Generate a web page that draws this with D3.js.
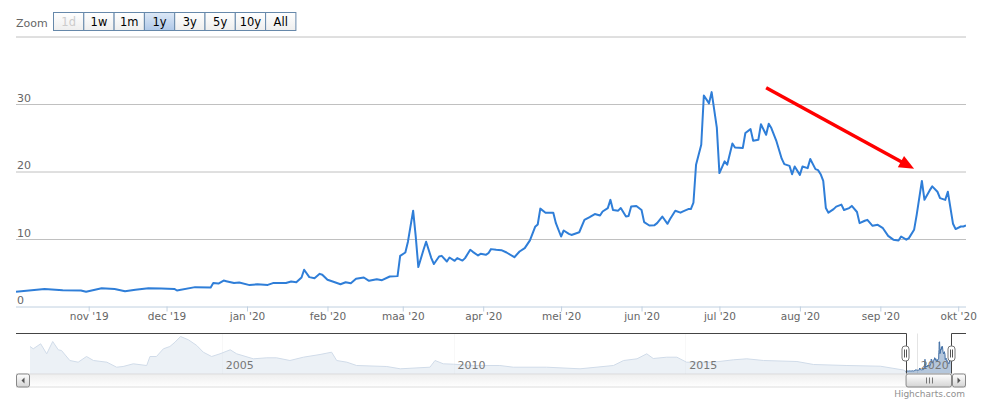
<!DOCTYPE html>
<html><head><meta charset="utf-8">
<script src="https://cdn.jsdelivr.net/npm/d3@7"></script>
<style>
body{margin:0;background:#fff;}
svg{display:block;font-family:"DejaVu Sans",Verdana,sans-serif;}
</style>
</head><body>
<svg id="c" width="987" height="404"></svg>
<script>
// ---------- data ----------
const dates = ["2019-10-04","2019-10-15","2019-10-22","2019-10-29","2019-10-31",
"2019-11-06","2019-11-11","2019-11-15","2019-11-19","2019-11-24","2019-11-29",
"2019-12-04","2019-12-05","2019-12-12","2019-12-18","2019-12-19","2019-12-21","2019-12-23","2019-12-24","2019-12-27","2019-12-29",
"2020-01-02","2020-01-05","2020-01-09","2020-01-11","2020-01-16","2020-01-18","2020-01-20","2020-01-22","2020-01-23","2020-01-25","2020-01-27","2020-01-29","2020-01-30",
"2020-02-01","2020-02-03","2020-02-06","2020-02-08","2020-02-10","2020-02-12","2020-02-15","2020-02-17","2020-02-20","2020-02-22","2020-02-25","2020-02-28","2020-02-29",
"2020-03-02","2020-03-03","2020-03-05","2020-03-06","2020-03-07","2020-03-09","2020-03-10","2020-03-12","2020-03-13","2020-03-15","2020-03-16","2020-03-18","2020-03-19","2020-03-21","2020-03-22","2020-03-24","2020-03-25","2020-03-27","2020-03-28","2020-03-30","2020-03-31",
"2020-04-02","2020-04-03","2020-04-04","2020-04-06","2020-04-08","2020-04-10","2020-04-13","2020-04-15","2020-04-17","2020-04-19","2020-04-21","2020-04-22","2020-04-23","2020-04-25","2020-04-28","2020-04-29",
"2020-05-01","2020-05-02","2020-05-04","2020-05-05","2020-05-08","2020-05-10","2020-05-12","2020-05-14","2020-05-16","2020-05-17","2020-05-19","2020-05-20","2020-05-21","2020-05-23","2020-05-24","2020-05-26","2020-05-27","2020-05-28","2020-05-30",
"2020-06-01","2020-06-02","2020-06-04","2020-06-06","2020-06-07","2020-06-09","2020-06-11","2020-06-12","2020-06-14","2020-06-16","2020-06-17","2020-06-19","2020-06-20","2020-06-21","2020-06-22","2020-06-24","2020-06-25","2020-06-27","2020-06-28","2020-06-30",
"2020-07-01","2020-07-03","2020-07-04","2020-07-06","2020-07-07","2020-07-10","2020-07-11","2020-07-13","2020-07-14","2020-07-16","2020-07-17","2020-07-19","2020-07-20","2020-07-21","2020-07-23","2020-07-25","2020-07-26","2020-07-28","2020-07-29","2020-07-30",
"2020-08-01","2020-08-02","2020-08-04","2020-08-05","2020-08-07","2020-08-08","2020-08-09","2020-08-10","2020-08-11","2020-08-12","2020-08-14","2020-08-15","2020-08-17","2020-08-18","2020-08-20","2020-08-21","2020-08-23","2020-08-24","2020-08-26","2020-08-27","2020-08-29","2020-08-31",
"2020-09-02","2020-09-04","2020-09-06","2020-09-08","2020-09-09","2020-09-11","2020-09-12","2020-09-14","2020-09-15","2020-09-17","2020-09-18","2020-09-20","2020-09-21","2020-09-23","2020-09-24","2020-09-26","2020-09-27","2020-09-29","2020-09-30",
"2020-10-02","2020-10-03","2020-10-04"];

const values = [2.2,2.6,2.4,2.37,2.2,
2.7,2.58,2.25,2.47,2.7,2.65,
2.6,2.37,2.87,2.8,3.47,3.4,3.85,3.75,3.47,3.56,
3.17,3.3,3.2,3.47,3.47,3.7,3.6,4.3,5.44,4.35,4.2,4.84,4.7,
3.96,3.7,3.3,3.6,3.46,4.1,4.3,3.8,4.05,3.9,4.44,4.5,7.5,
8.0,9.6,14.2,10.4,5.84,8.4,9.6,7.17,6.3,7.4,7.5,6.67,7.26,6.77,7.17,6.8,7.17,8.4,8.1,7.56,7.8,
7.66,7.9,8.5,8.4,8.35,8.0,7.3,8.15,8.65,9.8,11.8,12.15,14.5,13.9,13.9,12.35,
10.37,11.26,10.77,10.6,11.0,12.84,13.24,13.7,13.48,14.07,14.58,15.8,14.3,14.2,14.58,13.33,13.4,14.8,14.9,
14.3,12.5,12.0,12.05,12.35,13.33,12.25,12.95,14.18,13.9,14.1,14.43,14.43,15.4,21.0,23.96,31.26,30.1,31.76,26.5,
19.76,21.5,21.0,24.15,23.56,23.47,25.7,26.28,24.55,24.7,27.0,25.44,27.07,26.43,24.45,21.9,21.1,20.84,19.6,20.74,
19.5,20.74,20.5,21.84,20.35,20.2,19.6,18.6,14.6,13.9,14.43,14.8,15.1,14.3,14.58,14.9,14.0,12.35,12.7,12.84,11.95,12.1,
11.6,10.47,9.9,9.78,10.37,9.9,10.13,11.36,13.58,18.6,15.8,17.2,17.8,17.0,16.06,15.8,17.0,12.25,11.47,
11.85,11.85,12.0];

// long history shown in the navigator (decimal years, values)
const navYears = [2000.86,2000.93,2001.09,2001.22,2001.35,2001.47,2001.54,2001.72,2001.90,2002.08,2002.23,2002.52,2002.73,2002.87,
2003.09,2003.38,2003.45,2003.59,2003.74,2003.88,2003.99,2004.11,2004.28,2004.46,2004.60,2004.78,2004.96,2005.18,2005.32,2005.68,
2005.97,2006.18,2006.47,2006.76,2007.12,2007.37,2007.48,2007.70,2007.91,2008.56,2008.85,2009.49,2009.60,2009.78,2010.00,2010.43,
2011.00,2011.29,2012.01,2012.73,2013.45,2013.67,2013.96,2014.17,2014.31,2014.60,2014.82,2015.03,2015.61,2016.04,2016.33,2016.69,
2017.41,2017.77,2018.49,2019.21,2019.71];
const navValues = [27,24.7,29.7,19.7,32,23.7,23,13,11.3,17,13,11.3,6.3,7,
9.7,8,17,17,24.7,27,31.3,37,33.7,28,21.3,17,19.7,23.7,19.7,14.7,
15.7,15.7,13,16.3,19,21.3,13,11.3,8,7,4.7,6.3,13,9.7,9.3,8,
8,6.3,6.3,4.7,8,13,14.7,19.7,15,16.3,16.3,11.3,11.3,13.7,14.7,13,
12,9,8,7.3,3.5];

const viewRange = ["2019-10-04","2020-10-04"];
const monthTicks = ["2019-11-01","2019-12-01","2020-01-01","2020-02-01","2020-03-01","2020-04-01",
"2020-05-01","2020-06-01","2020-07-01","2020-08-01","2020-09-01","2020-10-01"];
const monthLabels = ["nov '19","dec '19","jan '20","feb '20","maa '20","apr '20",
"mei '20","jun '20","jul '20","aug '20","sep '20","okt '20"];
const yTicks = [0,10,20,30,40];
const yearTicks = [2005,2010,2015,2020];
const zoomButtons = ["1d","1w","1m","1y","3y","5y","10y","All"];
const selectedButton = "1y";
const disabledButtons = ["1d"];
const arrowStart = ["2020-07-19",32.4];
const arrowEnd = ["2020-09-14",20.4];

// ---------- layout ----------
const L=16, R=966, T=36.5, B=306.5;
const NT=333.5, NB=373.5, SB=14;
const svg=d3.select("#c");
const parse=d3.timeParse("%Y-%m-%d");
const series=dates.map((d,i)=>({date:parse(d),value:values[i]}));
function decYear(v){const yr=Math.floor(v);const a=new Date(yr,0,1),b=new Date(yr+1,0,1);return new Date(+a+(v-yr)*(b-a));}
const navSeries=navYears.map((v,i)=>({date:decYear(v),value:navValues[i]})).concat(series);

const x=d3.scaleTime().domain(viewRange.map(parse)).range([L,R]);
const y=d3.scaleLinear().domain([0,40]).range([B,T]);

// y grid + labels
const gy=svg.append("g").attr("transform",`translate(${L},0)`)
 .call(d3.axisRight(y).tickValues(yTicks).tickSize(R-L).tickFormat(d=>d===40?"":d));
gy.attr("font-family",null).attr("font-size",11);
gy.select(".domain").remove();
gy.selectAll(".tick line").attr("stroke",d=>d===0?"#C0D0E0":"#C0C0C0");
gy.selectAll(".tick text").attr("x",1).attr("dy",-3).attr("text-anchor","start").attr("fill","#666");

// x axis
const gx=svg.append("g").attr("transform",`translate(0,${B})`)
 .call(d3.axisBottom(x).tickValues(monthTicks.map(parse)).tickSize(5).tickFormat((d,i)=>monthLabels[i]));
gx.attr("font-family",null).attr("font-size",10.5);
gx.select(".domain").remove();
gx.selectAll(".tick line").attr("stroke","#C0D0E0");
gx.selectAll(".tick text").attr("y",6).attr("fill","#666");

// line
svg.append("clipPath").attr("id","pc").append("rect").attr("x",L).attr("y",T-5).attr("width",R-L).attr("height",B-T+10);
svg.append("path").datum(series).attr("clip-path","url(#pc)")
 .attr("fill","none").attr("stroke","#2f7ed8").attr("stroke-width",2).attr("stroke-linejoin","round")
 .attr("d",d3.line().x(d=>x(d.date)).y(d=>y(d.value)));

// arrow
{
 const x1=x(parse(arrowStart[0])),y1=y(arrowStart[1]),x2=x(parse(arrowEnd[0])),y2=y(arrowEnd[1]);
 const ang=Math.atan2(y2-y1,x2-x1),hl=15,hw=6.5;
 const bx=x2-hl*Math.cos(ang),by=y2-hl*Math.sin(ang);
 svg.append("line").attr("x1",x1).attr("y1",y1).attr("x2",bx+2*Math.cos(ang)).attr("y2",by+2*Math.sin(ang))
  .attr("stroke","#ff0000").attr("stroke-width",3.5);
 svg.append("path").attr("fill","#ff0000")
  .attr("d",`M${x2},${y2}L${bx+hw*Math.sin(ang)},${by-hw*Math.cos(ang)}L${bx-hw*Math.sin(ang)},${by+hw*Math.cos(ang)}Z`);
}

// range selector
svg.append("text").attr("x",L).attr("y",26.5).attr("font-size",11).attr("fill","#666").text("Zoom");
const grad=(id,c1,c2)=>{const g=svg.append("defs").append("linearGradient").attr("id",id).attr("x1",0).attr("y1",0).attr("x2",0).attr("y2",1);
 g.append("stop").attr("offset",0).attr("stop-color",c1);g.append("stop").attr("offset",1).attr("stop-color",c2);};
grad("gBtn","#FFFFFF","#EEEEEE");
grad("gSel","#DDE8F6","#AFC8E8");
grad("gBar","#FFFFFF","#D4D4D4");
grad("gTrk","#EEEEEE","#FFFFFF");
const bw=30.3, bx0=53.5;
const btn=svg.selectAll("g.btn").data(zoomButtons).join("g").attr("class","btn")
 .attr("transform",(d,i)=>`translate(${bx0+i*bw},12.5)`);
btn.append("rect").attr("width",bw).attr("height",18)
 .attr("fill",d=>d===selectedButton?"url(#gSel)":"url(#gBtn)").attr("stroke","#6688AA").attr("stroke-width",1);
btn.append("text").attr("x",bw/2).attr("y",13.5).attr("text-anchor","middle").attr("font-size",11.5)
 .attr("fill",d=>disabledButtons.includes(d)?"#CCC":"#000").text(d=>d);

// navigator
const nL=L+SB, nR=R-SB;
const nx=d3.scaleTime().domain([navSeries[0].date,series[series.length-1].date]).range([nL,nR]);
const ny=d3.scaleLinear().domain([0,40]).range([NB,NT]);
const gn=svg.append("g");
gn.selectAll("line.yg").data(yearTicks).join("line")
 .attr("x1",d=>Math.round(nx(decYear(d)))+0.5).attr("x2",d=>Math.round(nx(decYear(d)))+0.5)
 .attr("y1",NT).attr("y2",NB).attr("stroke","#E4E4E4");
gn.append("path").datum(navSeries).attr("fill","#4572A7").attr("fill-opacity",0.4)
 .attr("d",d3.area().x(d=>nx(d.date)).y0(NB).y1(d=>ny(d.value)));
gn.append("path").datum(navSeries).attr("fill","none").attr("stroke","#4572A7").attr("stroke-width",1)
 .attr("d",d3.line().x(d=>nx(d.date)).y(d=>ny(d.value)));
const s0=nx(parse(viewRange[0])), s1=nx(parse(viewRange[1]));
gn.append("rect").attr("x",nL).attr("y",NT).attr("width",s0-nL).attr("height",NB-NT).attr("fill","rgba(255,255,255,0.75)");
gn.append("rect").attr("x",s1).attr("y",NT).attr("width",Math.max(0,nR-s1)).attr("height",NB-NT).attr("fill","rgba(255,255,255,0.75)");
gn.selectAll("text.yl").data(yearTicks).join("text")
 .attr("x",d=>nx(decYear(d))+4).attr("y",NB-5).attr("font-size",11).attr("fill","#777").text(d=>d);

// scrollbar
const sbY=NB;
svg.append("rect").attr("x",L+0.5).attr("y",sbY+0.5).attr("width",R-L-1).attr("height",SB-1)
 .attr("fill","url(#gTrk)").attr("stroke","#DDD");
[[L,-1],[R-SB,1]].forEach(([bx,dir])=>{
 svg.append("rect").attr("x",bx+0.5).attr("y",sbY+0.5).attr("width",SB-1).attr("height",SB-1).attr("rx",2)
  .attr("fill","url(#gBar)").attr("stroke","#888");
 const cx=bx+SB/2, cy=sbY+SB/2;
 svg.append("path").attr("fill","#555").attr("d",dir<0?`M${cx+1.5},${cy-3}L${cx-1.5},${cy}L${cx+1.5},${cy+3}Z`:`M${cx-1.5},${cy-3}L${cx+1.5},${cy}L${cx-1.5},${cy+3}Z`);
});
svg.append("rect").attr("x",s0+0.5).attr("y",sbY+0.5).attr("width",s1-s0-1).attr("height",SB-1).attr("rx",2)
 .attr("fill","url(#gBar)").attr("stroke","#888");
{const cx=Math.round((s0+s1)/2)+0.5;
 [-3,0,3].forEach(o=>svg.append("line").attr("x1",cx+o).attr("x2",cx+o).attr("y1",sbY+4).attr("y2",sbY+SB-4).attr("stroke","#777"));}

// outline
svg.append("path").attr("fill","none").attr("stroke","#444").attr("stroke-width",1)
 .attr("d",`M${L},${NT}H${Math.round(s0)+0.5}V${NB}M${Math.round(s1)-0.5},${NB}V${NT}H${R}`);

// handles
[s0,s1].forEach(hx=>{
 const g=svg.append("g").attr("transform",`translate(${Math.round(hx)-4.5},${(NT+NB)/2-8})`);
 g.append("rect").attr("x",0.5).attr("y",0.5).attr("width",7).attr("height",15).attr("rx",3).attr("fill","#fff").attr("stroke","#777");
 g.append("path").attr("stroke","#555").attr("d","M3,4V12M5,4V12");
});

// credits
svg.append("text").attr("x",965).attr("y",397).attr("text-anchor","end").attr("font-size",9).attr("fill","#909090").text("Highcharts.com");
</script>
</body></html>
